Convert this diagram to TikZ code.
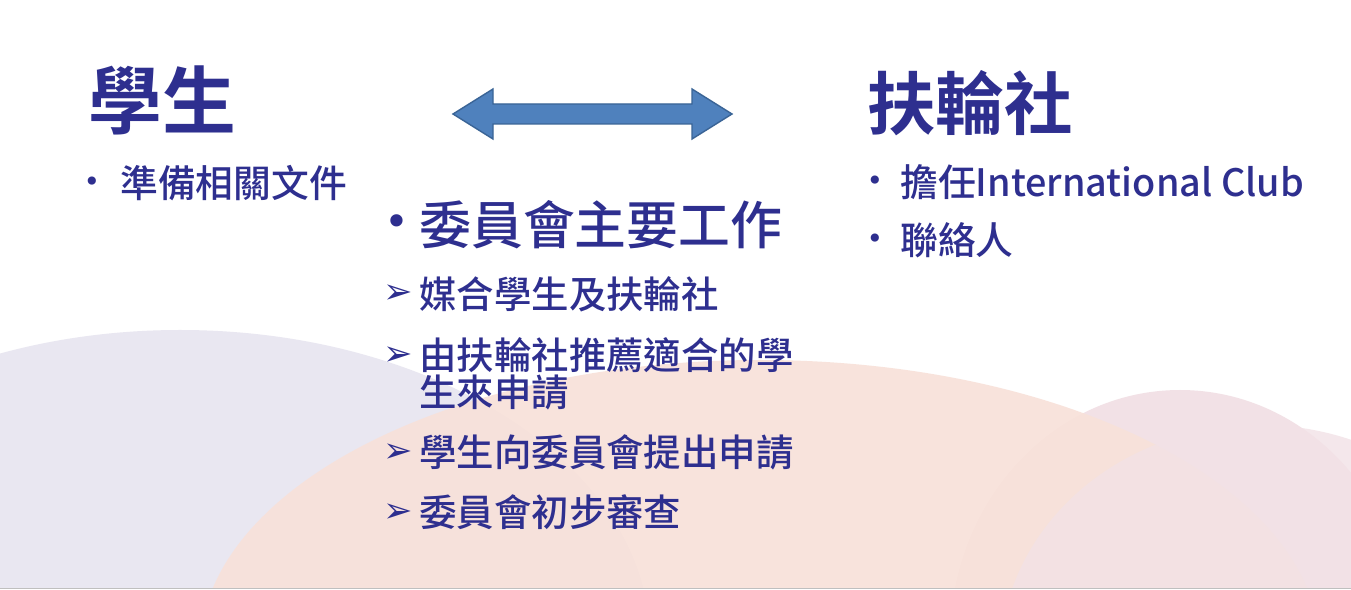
\documentclass[tikz,border=0pt]{standalone}
\usepackage{fontspec}
\setmainfont{Noto Sans CJK TC}[BoldFont={Noto Sans CJK TC Bold}]
\newfontfamily\med{Noto Sans CJK TC Medium}
\newfontfamily\dejavu{DejaVu Sans}
\definecolor{txt}{HTML}{2E2F8F}
\definecolor{arrowfill}{HTML}{4F81BD}
\definecolor{arrowline}{HTML}{3A6496}
\definecolor{lav}{HTML}{E9E7F1}
\definecolor{peach}{HTML}{F8E1D9}
\definecolor{pinkr}{HTML}{F2E1E6}
\tikzset{
  title/.style={font=\fontsize{42}{46}\selectfont\bfseries, text=txt, anchor=west, inner sep=0},
  item/.style={font=\med\fontsize{21.5}{26}\selectfont, text=txt, anchor=west, inner sep=0, align=left},
  big/.style={font=\med\fontsize{29.5}{32}\selectfont, text=txt, anchor=west, inner sep=0},
  sub/.style={font=\med\fontsize{21.3}{21}\selectfont, text=txt, anchor=north west, inner sep=0, align=left},
  dot/.style={font=\dejavu\fontsize{16}{20}\selectfont, text=txt, inner sep=0},
  tri/.style={font=\dejavu\fontsize{20}{20}\selectfont, text=txt, inner sep=0},
}
\begin{document}
\begin{tikzpicture}[x=0.02cm,y=-0.02cm]
\useasboundingbox (0,0) rectangle (1351,590);
\fill[white] (0,0) rectangle (1351,590);
\begin{scope}
\clip (0,0) rectangle (1351,587);
\fill[lav] (180,640) ellipse [x radius=470, y radius=310];
\fill[pinkr] (1180,640) ellipse [x radius=230, y radius=250];
\fill[peach, opacity=0.9] (760,650) ellipse [x radius=560, y radius=290];
\fill[pinkr, opacity=0.8] (1260,660) ellipse [x radius=260, y radius=235];
\end{scope}
\draw[gray!50] (0,588) -- (1351,588);

\node[title] (stu) at (88,100) {學生};
\node[dot] (b1) at (92,184) {•};
\node[item] (t1) at (120,183) {準備相關文件};

\fill[arrowfill, draw=arrowline, line width=0.8pt]
  (453,114) -- (493,89) -- (493,104) -- (692,104) -- (692,89) -- (732,114)
  -- (692,139) -- (692,124) -- (493,124) -- (493,139) -- cycle;

\node[title, font=\fontsize{39}{44}\selectfont\bfseries] (rot) at (867,103) {扶輪社};
\node[dot] (b2) at (875,183) {•};
\node[item] (t2) at (900,182) {擔任International Club};
\node[dot] (b3) at (875,241) {•};
\node[item] (t3) at (900,240) {聯絡人};

\node[dot, font=\dejavu\fontsize{24}{28}\selectfont] (b4) at (397,226) {•};
\node[big] (t4) at (419,225) {委員會主要工作};

\node[tri] (a1) at (398,294) {➢};
\node[sub] (s1) at (419,276) {媒合學生及扶輪社};
\node[tri] (a2) at (398,356) {➢};
\node[sub] (s2) at (419,337) {由扶輪社推薦適合的學\\生來申請};
\node[tri] (a3) at (398,453) {➢};
\node[sub] (s3) at (419,434) {學生向委員會提出申請};
\node[tri] (a4) at (398,513) {➢};
\node[sub] (s4) at (419,494) {委員會初步審查};
\end{tikzpicture}
\end{document}
